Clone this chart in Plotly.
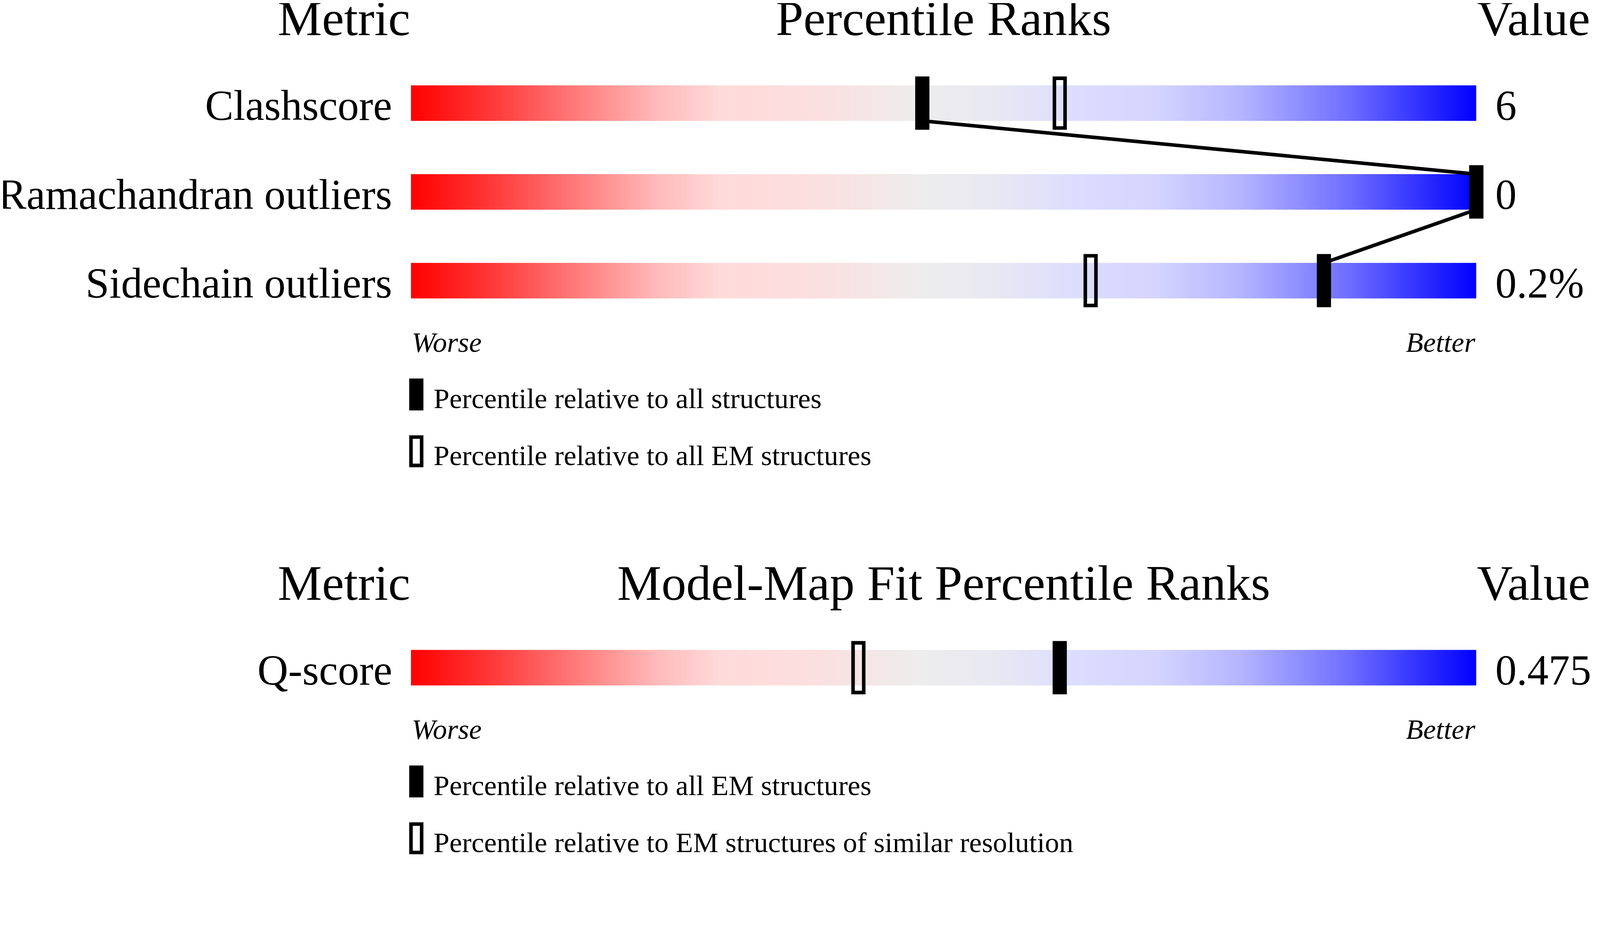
import numpy as np
import plotly.graph_objects as go

# --- chart data -------------------------------------------------------------
geo_metrics = ["Clashscore", "Ramachandran outliers", "Sidechain outliers"]
geo_values = ["6", "0", "0.2%"]
geo_pct_all = [48.0, 100.0, 85.7]      # percentile relative to all structures
geo_pct_em = [60.9, 100.0, 63.8]       # percentile relative to all EM structures

fit_metrics = ["Q-score"]
fit_values = ["0.475"]
fit_pct_em = [60.9]                    # percentile relative to all EM structures
fit_pct_res = [42.0]                   # percentile relative to EM structures of similar resolution

geo_title = "Percentile Ranks"
fit_title = "Model-Map Fit Percentile Ranks"
geo_legend = ["Percentile relative to all structures", "Percentile relative to all EM structures"]
fit_legend = ["Percentile relative to all EM structures",
              "Percentile relative to EM structures of similar resolution"]

# --- geometry (measured in picture pixels) -----------------------------------
W, H = 4485, 2402
S = 1 / 1.1                            # page renders at 1.1 device px per css px
OFF = 4 / S                            # small shift for the page offset, in picture px
BAR_LEFT, BAR_RIGHT = 1153, 4153       # pixel span of the 0..100 slider
PX = (BAR_RIGHT - BAR_LEFT) / 100.0    # pixels per percentile
ROW = 250.0                            # pixels per row unit
FONT = "Liberation Serif, Times New Roman, serif"

slider_scale = [
    [0.00, "rgb(255,0,0)"],
    [0.08, "rgb(255,60,60)"],
    [0.15, "rgb(255,118,118)"],
    [0.23, "rgb(255,185,185)"],
    [0.29, "rgb(255,218,218)"],
    [0.38, "rgb(252,223,223)"],
    [0.48, "rgb(237,237,237)"],
    [0.55, "rgb(232,232,242)"],
    [0.62, "rgb(221,221,253)"],
    [0.70, "rgb(212,212,255)"],
    [0.78, "rgb(180,180,255)"],
    [0.88, "rgb(110,110,255)"],
    [1.00, "rgb(0,0,255)"],
]
grad_x = np.linspace(0, 100, 601)
grad_z = [(grad_x[:-1] + grad_x[1:]) / 2]

fig = go.Figure()
annotations = []
shapes = []


def txt(x, y, yref, text, size, anchor):
    annotations.append(dict(x=x, y=y, xref="x", yref=yref, text=text,
                            xanchor=anchor, yanchor="middle", showarrow=False,
                            font=dict(size=size * S)))


def add_panel(yname, title, metrics, values, pct_solid, pct_hollow, legend, connect):
    n = len(metrics)
    rows = list(range(n))
    for i in rows:
        fig.add_trace(go.Heatmap(x=grad_x, y=[i - 0.2, i + 0.2], z=grad_z,
                                 colorscale=slider_scale, zmin=0, zmax=100,
                                 showscale=False, hoverinfo="skip",
                                 xaxis="x", yaxis=yname))
    if connect and n > 1:
        xs, ys = [], []
        for i, p in enumerate(pct_solid):
            if i > 0:
                xs.append(p)
                ys.append(i - 0.2)
            if i < n - 1:
                xs.append(p)
                ys.append(i + 0.2)
        fig.add_trace(go.Scatter(x=xs, y=ys, mode="lines",
                                 line=dict(color="black", width=10 * S),
                                 hoverinfo="skip", xaxis="x", yaxis=yname))
    fig.add_trace(go.Bar(x=pct_hollow, y=[0.56] * n, base=[i - 0.28 for i in rows],
                         width=30 / PX,
                         marker=dict(color="rgba(0,0,0,0)",
                                     line=dict(color="black", width=10 * S)),
                         hoverinfo="skip", xaxis="x", yaxis=yname))
    fig.add_trace(go.Bar(x=pct_solid, y=[0.6] * n, base=[i - 0.3 for i in rows],
                         width=40 / PX,
                         marker=dict(color="black", line=dict(width=0)),
                         hoverinfo="skip", xaxis="x", yaxis=yname))

    # headers
    hy = -0.952
    txt(0, hy, yname, "Metric", 140, "right")
    txt(50, hy, yname, title, 140, "center")
    txt(100, hy, yname, "Value", 140, "left")
    for i in rows:
        txt(-51 / PX, i + 0.03, yname, metrics[i], 120, "right")
        txt(100 + 52 / PX, i + 0.03, yname, values[i], 120, "left")
    last = n - 1
    txt(0, last + 0.696, yname, "<i>Worse</i>", 80, "left")
    txt(100, last + 0.696, yname, "<i>Better</i>", 80, "right")
    # legend keys
    for k, label in enumerate(legend):
        cy = last + 1.282 + k * 0.64
        if k == 0:
            shapes.append(dict(type="rect", xref="x", yref=yname,
                               x0=0.5 - 20 / PX, x1=0.5 + 20 / PX, y0=cy - 0.18, y1=cy + 0.18,
                               fillcolor="black", line=dict(width=0)))
        else:
            shapes.append(dict(type="rect", xref="x", yref=yname,
                               x0=0.5 - 15 / PX, x1=0.5 + 15 / PX, y0=cy - 0.16, y1=cy + 0.16,
                               fillcolor="rgba(0,0,0,0)",
                               line=dict(color="black", width=10 * S)))
        txt(61 / PX, cy + 0.046, yname, label, 80, "left")


add_panel("y", geo_title, geo_metrics, geo_values, geo_pct_all, geo_pct_em, geo_legend, True)
add_panel("y2", fit_title, fit_metrics, fit_values, fit_pct_em, fit_pct_res, fit_legend, False)


def y_range(first_row_px):
    top = -(first_row_px - OFF) / ROW
    return [top + H / ROW, top]


left = BAR_LEFT - OFF
fig.update_layout(
    width=round(W * S), height=round(H * S),
    margin=dict(l=0, r=0, t=0, b=0),
    paper_bgcolor="white", plot_bgcolor="white",
    showlegend=False, barmode="overlay",
    font=dict(family=FONT, color="black"),
    xaxis=dict(domain=[0, 1], range=[-left / PX, (W - left) / PX], visible=False),
    yaxis=dict(domain=[0, 1], range=y_range(286), visible=False),
    yaxis2=dict(domain=[0, 1], range=y_range(1876), visible=False,
                overlaying="y", anchor="x"),
    annotations=annotations,
    shapes=shapes,
)

fig.write_html("out.html")
